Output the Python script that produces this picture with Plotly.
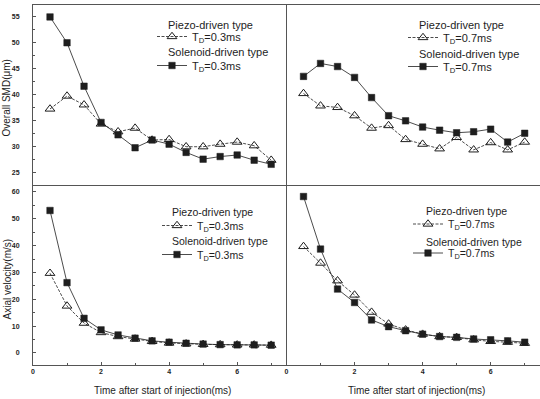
import plotly.graph_objects as go

# ---------------- data ----------------
time_ms = [0.5, 1.0, 1.5, 2.0, 2.5, 3.0, 3.5, 4.0, 4.5, 5.0, 5.5, 6.0, 6.5, 7.0]

smd_piezo_03 = [37.2, 39.7, 38.0, 34.3, 32.8, 33.5, 31.2, 31.3, 29.9, 29.9, 30.4, 30.8, 30.1, 27.3]
smd_sol_03 = [55.0, 50.0, 41.6, 34.6, 32.2, 29.7, 31.2, 30.4, 28.8, 27.5, 28.0, 28.3, 27.3, 26.5]

smd_piezo_07 = [40.2, 37.8, 37.5, 35.9, 33.5, 34.0, 31.3, 30.4, 29.5, 31.7, 29.3, 30.7, 29.3, 30.8]
smd_sol_07 = [43.5, 46.0, 45.4, 43.3, 39.4, 35.9, 34.9, 33.7, 33.1, 32.6, 32.8, 33.3, 30.8, 32.5]

vel_piezo_03 = [29.7, 17.5, 11.1, 7.6, 6.1, 5.2, 4.3, 3.7, 3.4, 3.2, 3.1, 3.0, 3.0, 2.9]
vel_sol_03 = [53.1, 26.2, 12.9, 8.6, 6.7, 5.5, 4.5, 4.0, 3.6, 3.3, 3.1, 3.0, 3.0, 2.9]

vel_piezo_07 = [39.7, 33.5, 26.9, 21.6, 15.2, 10.8, 8.6, 7.0, 6.1, 5.8, 4.9, 4.3, 4.0, 3.6]
vel_sol_07 = [58.3, 38.7, 23.8, 18.8, 12.3, 9.8, 8.3, 7.0, 6.1, 5.8, 5.2, 4.9, 4.5, 4.0]

label_piezo = "Piezo-driven type"
label_sol = "Solenoid-driven type"
td_03 = "T<sub>D</sub>=0.3ms"
td_07 = "T<sub>D</sub>=0.7ms"
ytitle_top = "Overall SMD(μm)"
ytitle_bot = "Axial velocity(m/s)"
xtitle = "Time after start of injection(ms)"

# ---------------- figure ----------------
INK = "#1e1e1e"
AXC = "#555555"
FONT = "Liberation Sans, Arial, sans-serif"

fig = go.Figure()

panels = [
    ("x", "y", "legend", smd_piezo_03, smd_sol_03, td_03),
    ("x2", "y2", "legend2", smd_piezo_07, smd_sol_07, td_07),
    ("x3", "y3", "legend3", vel_piezo_03, vel_sol_03, td_03),
    ("x4", "y4", "legend4", vel_piezo_07, vel_sol_07, td_07),
]

for i, (xa, ya, lg, piezo, sol, td) in enumerate(panels):
    fig.add_trace(go.Scatter(
        x=time_ms, y=piezo, xaxis=xa, yaxis=ya, mode="lines+markers",
        name=td, legend=lg, legendgroup=f"p{i}",
        line=dict(color=INK, width=0.8, dash="3px,1.5px"),
        marker=dict(symbol="triangle-up-open", size=8.5, color=INK,
                    line=dict(width=1, color=INK)),
    ))
    fig.add_trace(go.Scatter(
        x=time_ms, y=sol, xaxis=xa, yaxis=ya, mode="lines+markers",
        name=td, legend=lg, legendgroup=f"s{i}",
        line=dict(color=INK, width=0.8),
        marker=dict(symbol="square", size=6.5, color=INK,
                    line=dict(width=0.5, color=INK)),
    ))

tickfont = dict(family=FONT, size=7, color=INK, weight="bold")
common_x = dict(range=[0, 7.45], showline=True, linecolor=AXC, linewidth=1,
                showgrid=False, zeroline=False, tickfont=tickfont)
common_y = dict(showline=True, linecolor=AXC, linewidth=1,
                showgrid=False, zeroline=False, tickfont=tickfont)

xtop = dict(common_x, mirror=True, ticks="", showticklabels=False)
xbot = dict(common_x, mirror=False, ticks="inside", ticklen=3, tickcolor=AXC,
            tickmode="linear", tick0=0, dtick=2,
            minor=dict(ticks="inside", ticklen=2, dtick=1, tickcolor=AXC))

ytop_rng = [22.5, 57.3]
ybot_rng = [-4.5, 62.6]

fig.update_layout(
    xaxis=dict(xtop, domain=[0, 0.5], anchor="y"),
    xaxis2=dict(xtop, domain=[0.5, 1], anchor="y2"),
    xaxis3=dict(xbot, domain=[0, 0.5], anchor="y3"),
    xaxis4=dict(xbot, domain=[0.5, 1], anchor="y4"),
    yaxis=dict(common_y, domain=[0.5, 1], anchor="x", range=ytop_rng,
               ticks="inside", ticklen=3, tickcolor=AXC, tickmode="linear",
               tick0=25, dtick=5, ticklabelstandoff=11,
               minor=dict(ticks="inside", ticklen=2, dtick=2.5, tickcolor=AXC)),
    yaxis2=dict(common_y, domain=[0.5, 1], anchor="x2", range=ytop_rng,
                ticks="", showticklabels=False),
    yaxis3=dict(common_y, domain=[0, 0.5], anchor="x3", range=ybot_rng,
                ticks="inside", ticklen=3, tickcolor=AXC, tickmode="linear",
                tick0=0, dtick=10, ticklabelstandoff=11,
                minor=dict(ticks="inside", ticklen=2, dtick=5, tickcolor=AXC)),
    yaxis4=dict(common_y, domain=[0, 0.5], anchor="x4", range=ybot_rng,
                ticks="", showticklabels=False),
)

W, H = 540, 399
ML, MR, MT, MB = 33, 0, 5, 34
PW, PH = W - ML - MR, H - MT - MB


def px(xp):
    return (xp - ML) / PW


def py(yp):
    return (H - MB - yp) / PH


legfont_top = dict(family=FONT, size=11, color=INK)
legfont_bot = dict(family=FONT, size=10.5, color=INK)
legstyle = dict(bgcolor="rgba(0,0,0,0)", borderwidth=0, xanchor="left",
                yanchor="top", traceorder="grouped", tracegroupgap=10)

fig.update_layout(
    legend=dict(legstyle, x=px(152), y=py(22), font=legfont_top),
    legend2=dict(legstyle, x=px(403), y=py(23), font=legfont_top),
    legend3=dict(legstyle, x=px(157), y=py(211), font=legfont_bot),
    legend4=dict(legstyle, x=px(408), y=py(209.5), font=legfont_bot),
)

ann = []
title_pos = [
    (166, 24.5, 52.5, legfont_top),
    (417, 24.5, 54, legfont_top),
    (170, 212.5, 241, legfont_bot),
    (424, 210.5, 241.5, legfont_bot),
]
for xl, y1, y2, f in title_pos:
    ann.append(dict(text=label_piezo, x=px(xl), y=py(y1), xref="paper", yref="paper",
                    xanchor="left", yanchor="middle", showarrow=False, font=f))
    ann.append(dict(text=label_sol, x=px(xl), y=py(y2), xref="paper", yref="paper",
                    xanchor="left", yanchor="middle", showarrow=False, font=f))

axfont = dict(family=FONT, size=10, color=INK)
ann.append(dict(text=ytitle_top, x=px(6.5), y=py(98), xref="paper", yref="paper",
                textangle=-90, showarrow=False, xanchor="center", yanchor="middle", font=axfont))
ann.append(dict(text=ytitle_bot, x=px(6.5), y=py(279), xref="paper", yref="paper",
                textangle=-90, showarrow=False, xanchor="center", yanchor="middle", font=axfont))
ann.append(dict(text=xtitle, x=px(162), y=py(390), xref="paper", yref="paper",
                showarrow=False, xanchor="center", yanchor="middle", font=axfont))
ann.append(dict(text=xtitle, x=px(416), y=py(390), xref="paper", yref="paper",
                showarrow=False, xanchor="center", yanchor="middle", font=axfont))

fig.update_layout(
    width=W, height=H,
    margin=dict(l=ML, r=MR, t=MT, b=MB),
    paper_bgcolor="white", plot_bgcolor="white",
    annotations=ann,
    font=dict(family=FONT, color=INK),
)

fig.write_html("out.html")
